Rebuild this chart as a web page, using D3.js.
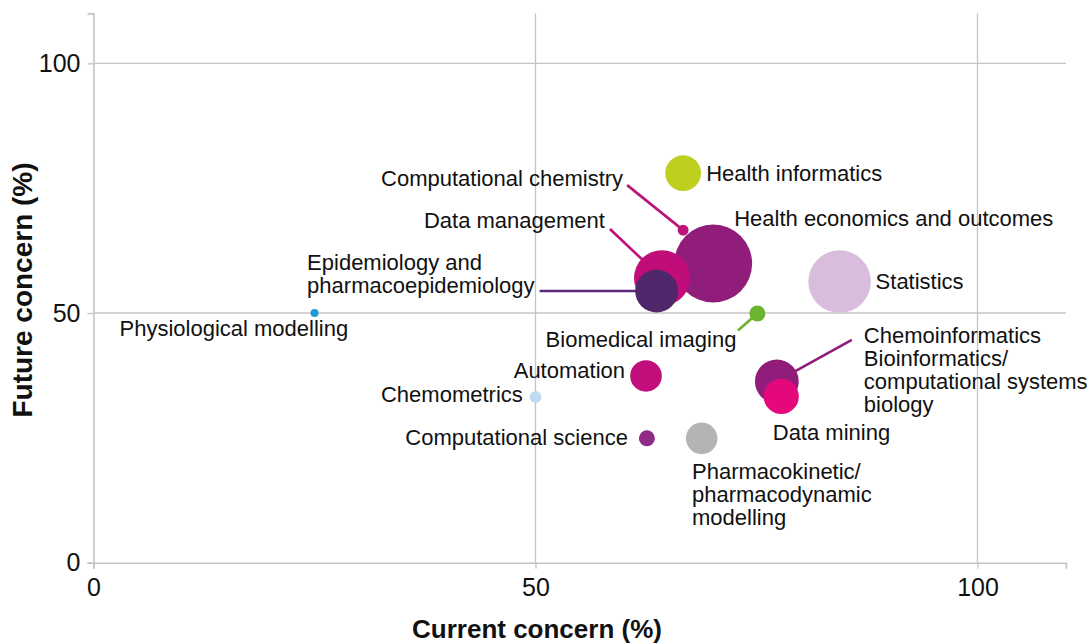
<!DOCTYPE html>
<html>
<head>
<meta charset="utf-8">
<script src="https://cdn.jsdelivr.net/npm/d3@7"></script>
<style>
  html, body { margin: 0; padding: 0; background: #ffffff; }
  svg { display: block; }
  text { font-family: "Liberation Sans", Arial, Helvetica, sans-serif; fill: #111; }
</style>
</head>
<body>
<svg id="chart" width="1091" height="644"></svg>
<script>
// ---------- data ----------
const names = [
  "Health informatics", "Computational chemistry", "Health economics and outcomes",
  "Data management", "Epidemiology and pharmacoepidemiology", "Statistics",
  "Biomedical imaging", "Physiological modelling", "Automation",
  "Chemoinformatics", "Bioinformatics/computational systems biology", "Data mining",
  "Chemometrics", "Computational science", "Pharmacokinetic/pharmacodynamic modelling"
];
const currentConcern = [66.7, 66.7, 70.1, 64.3, 63.7, 84.4, 75.1, 25.0, 62.5, 77.3, 77.3, 77.8, 50.0, 62.6, 68.8];
const futureConcern  = [78.0, 66.6, 59.9, 57.0, 54.4, 56.3, 49.9, 50.0, 37.4, 36.3, 36.3, 33.3, 33.2, 24.9, 24.9];
const bubbleSize     = [32, 3, 152, 78, 46, 98, 6.4, 1.6, 25, 20, 48, 31, 3.6, 6.4, 25];
const xTicks = [0, 50, 100];
const yTicks = [0, 50, 100];
const xTitle = "Current concern (%)";
const yTitle = "Future concern (%)";

// ---------- styles / layout ----------
const colors = ["#bfcf1f", "#bb1479", "#911d7b", "#c00d79", "#4f2669", "#d9bddc",
                "#6cb32e", "#1c9ad8", "#c10e7a", "#911d7b", "#911d7b", "#e5077c",
                "#bfdbf3", "#8f2b86", "#b4b4b4"];
// drawing order (indices)
const drawOrder = [5, 14, 0, 2, 1, 3, 4, 6, 7, 8, 9, 10, 11, 12, 13];
// label layout: lines of text, anchor, offset from bubble centre (px), optional leader start offset
const labelLayout = [
  { lines: ["Health informatics"], anchor: "start", dx: 23, dy: 8 },
  { lines: ["Computational chemistry"], anchor: "end", dx: -60, dy: -44, lead: [-56, -45] },
  { lines: ["Health economics and outcomes"], anchor: "start", dx: 21, dy: -38 },
  { lines: ["Data management"], anchor: "end", dx: -57, dy: -50, lead: [-52, -49] },
  { lines: ["Epidemiology and", "pharmacoepidemiology"], anchor: "start", dx: -349.5, dy: -21, lead: [-117, 0] },
  { lines: ["Statistics"], anchor: "start", dx: 36, dy: 7 },
  { lines: ["Biomedical imaging"], anchor: "end", dx: -21, dy: 33, lead: [-19.5, 17] },
  { lines: ["Physiological modelling"], anchor: "start", dx: -195, dy: 23 },
  { lines: ["Automation"], anchor: "end", dx: -21, dy: 2 },
  { lines: ["Chemoinformatics"], anchor: "start", dx: 87, dy: -38, lead: [75, -41.5] },
  { lines: ["Bioinformatics/", "computational systems", "biology"], anchor: "start", dx: 87, dy: -15 },
  { lines: ["Data mining"], anchor: "start", dx: -8.5, dy: 43.5 },
  { lines: ["Chemometrics"], anchor: "end", dx: -12.7, dy: 5.3 },
  { lines: ["Computational science"], anchor: "end", dx: -19, dy: 7 },
  { lines: ["Pharmacokinetic/", "pharmacodynamic", "modelling"], anchor: "start", dx: -9.7, dy: 40.7 }
];
const leadColors = { 1: "#bb1479", 3: "#c00d79", 4: "#5a2a78", 6: "#6cb32e", 9: "#911d7b" };

const svg = d3.select("#chart");
const x = d3.scaleLinear().domain([0, 110]).range([93.5, 1065.9]);
const y = d3.scaleLinear().domain([0, 110]).range([562.7, 13.4]);
const r = d3.scaleSqrt().domain([0, 100]).range([0, 31.6]);
const gridColor = "#c4c4c4";

// grid
svg.append("g").selectAll("line").data(xTicks.filter(d => d > 0)).join("line")
  .attr("x1", d => x(d)).attr("x2", d => x(d))
  .attr("y1", y(110)).attr("y2", y(0))
  .attr("stroke", gridColor).attr("stroke-width", 1.3);
svg.append("g").selectAll("line").data(yTicks.filter(d => d > 0)).join("line")
  .attr("x1", x(0)).attr("x2", x(110))
  .attr("y1", d => y(d)).attr("y2", d => y(d))
  .attr("stroke", gridColor).attr("stroke-width", 1.3);

// axes
const xAxis = svg.append("g").attr("transform", `translate(0,${y(0)})`)
  .call(d3.axisBottom(x).tickValues(xTicks).tickSize(6).tickPadding(10).tickFormat(d3.format("d")));
const yAxis = svg.append("g").attr("transform", `translate(${x(0)},0)`)
  .call(d3.axisLeft(y).tickValues(yTicks).tickSize(6).tickPadding(7).tickFormat(d3.format("d")));
[xAxis, yAxis].forEach(g => {
  g.select(".domain").attr("stroke", gridColor).attr("stroke-width", 1.6);
  g.selectAll(".tick line").attr("stroke", gridColor).attr("stroke-width", 1.3);
  g.selectAll(".tick text").attr("font-family", "Liberation Sans, Arial, sans-serif")
    .attr("font-size", 25).attr("fill", "#111");
});
xAxis.selectAll(".tick text").attr("dy", "0.71em");

// axis titles
svg.append("text").attr("x", 537).attr("y", 638).attr("text-anchor", "middle")
  .attr("font-size", 26).attr("font-weight", "bold").text(xTitle);
svg.append("text").attr("transform", "translate(32,290) rotate(-90)").attr("text-anchor", "middle")
  .attr("font-size", 28).attr("font-weight", "bold").text(yTitle);

const pts = names.map((n, i) => ({
  i, name: n, cx: x(currentConcern[i]), cy: y(futureConcern[i]), rr: r(bubbleSize[i]),
  color: colors[i], lab: labelLayout[i]
}));

// leader lines
svg.append("g").selectAll("line").data(pts.filter(p => p.lab.lead)).join("line")
  .attr("x1", p => p.cx + p.lab.lead[0]).attr("y1", p => p.cy + p.lab.lead[1])
  .attr("x2", p => p.cx).attr("y2", p => p.cy)
  .attr("stroke", p => leadColors[p.i]).attr("stroke-width", 2.6);

// bubbles
svg.append("g").selectAll("circle").data(drawOrder.map(k => pts[k])).join("circle")
  .attr("cx", p => p.cx).attr("cy", p => p.cy).attr("r", p => p.rr)
  .attr("fill", p => p.color);

// labels
const lg = svg.append("g");
pts.forEach(p => {
  const t = lg.append("text").attr("font-size", 22).attr("text-anchor", p.lab.anchor)
    .attr("x", p.cx + p.lab.dx).attr("y", p.cy + p.lab.dy);
  p.lab.lines.forEach((ln, j) => {
    t.append("tspan").attr("x", p.cx + p.lab.dx).attr("dy", j === 0 ? 0 : 23).text(ln);
  });
});
</script>
</body>
</html>
